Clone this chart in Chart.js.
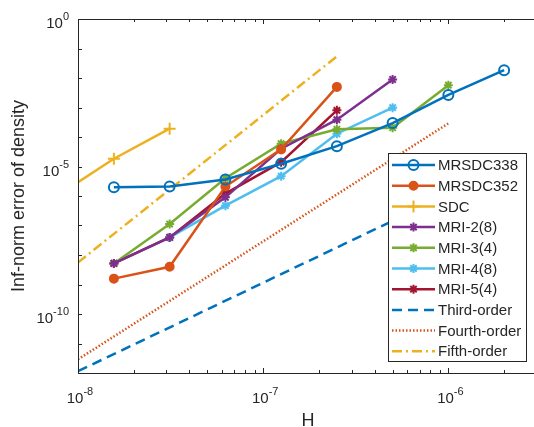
<!DOCTYPE html>
<html>
<head>
<meta charset="utf-8">
<script src="https://cdn.jsdelivr.net/npm/chart.js@4.4.1/dist/chart.umd.min.js"></script>
<style>
html,body{margin:0;padding:0;background:#fff;}
#wrap{width:534px;height:427px;position:relative;}
</style>
</head>
<body>
<div id="wrap"><canvas id="c" width="534" height="427"></canvas></div>
<script>
// ---- data ----
const H = [7.8125e-9, 1.5625e-8, 3.125e-8, 6.25e-8, 1.25e-7, 2.5e-7, 5e-7, 1e-6, 2e-6];
const MRSDC338 = [null, 1.98e-6, 2.09e-6, 3.61e-6, 1.24e-5, 4.9e-5, 2.97e-4, 2.66e-3, 1.84e-2];
const MRSDC352 = [null, 1.58e-9, 3.98e-9, 2.09e-6, 3.8e-5, 5.0e-3, null, null, null];
const SDC      = [1.07e-6, 1.83e-5, 1.91e-4, null, null, null, null, null, null];
const MRI2_8   = [null, 5.18e-9, 3.94e-8, 9.0e-7, 4.0e-5, 3.87e-4, 8.9e-3, null, null];
const MRI3_4   = [null, 5.18e-9, 1.12e-7, 4.0e-6, 5.9e-5, 1.82e-4, 2.07e-4, 5.69e-3, null];
const MRI4_8   = [null, null, 3.94e-8, 4.71e-7, 4.68e-6, 1.29e-4, 9.9e-4, null, null];
const MRI5_4   = [null, 5.18e-9, 3.94e-8, 1.21e-6, 1.40e-5, 8.0e-4, null, null, null];
const refH     = [1e-8, 1e-6];
const thirdOrder  = [1.15e-12, 1.15e-6];
const fourthOrder = [2.9e-12, 2.9e-4];
const fifthH      = [1e-8, 2.5e-7];
const fifthOrder  = [5.56e-9, 5.43e-2];
const xTickLabels = [-8, -7, -6];
const yTickLabels = [0, -5, -10];
const seriesNames = ['MRSDC338','MRSDC352','SDC','MRI-2(8)','MRI-3(4)','MRI-4(8)','MRI-5(4)','Third-order','Fourth-order','Fifth-order'];

function pts(xs, ys){ const out=[]; for(let i=0;i<xs.length;i++){ if(ys[i]!==null) out.push({x:xs[i], y:ys[i]}); } return out; }

const TXT = '#262626';
const FONT = '"Liberation Sans", Arial, Helvetica, sans-serif';

function ds(label, data, color, style, extra){
  return Object.assign({
    label, data, borderColor: color, backgroundColor: color,
    borderWidth: 2.5, pointStyle: style, pointRadius: 5, pointBorderWidth: 2,
    pointBackgroundColor: color, pointBorderColor: color, tension: 0, fill: false
  }, extra||{});
}

const datasets = [
  ds(seriesNames[0], pts(H, MRSDC338), '#0072BD', 'circle', {pointBackgroundColor:'rgba(0,0,0,0)', pointRadius:5}),
  ds(seriesNames[1], pts(H, MRSDC352), '#D95319', 'circle', {pointRadius:4}),
  ds(seriesNames[2], pts(H, SDC), '#EDB120', 'cross', {pointRadius:6}),
  ds(seriesNames[3], pts(H, MRI2_8), '#7E2F8E', 'star', {pointRadius:4.5}),
  ds(seriesNames[4], pts(H, MRI3_4), '#77AC30', 'star', {pointRadius:4.5}),
  ds(seriesNames[5], pts(H, MRI4_8), '#4DBEEE', 'star', {pointRadius:4.5}),
  ds(seriesNames[6], pts(H, MRI5_4), '#A2142F', 'star', {pointRadius:4.5}),
  ds(seriesNames[7], pts(refH, thirdOrder), '#0072BD', false, {pointRadius:0, borderDash:[10,6]}),
  ds(seriesNames[8], pts(refH, fourthOrder), '#D95319', false, {pointRadius:0, borderWidth:2.5, borderDash:[1.5,2]}),
  ds(seriesNames[9], pts(fifthH, fifthOrder), '#EDB120', false, {pointRadius:0, borderDash:[10,4,2,4]})
];

const matlabAxes = {
  id: 'matlabAxes',
  afterDraw(chart){
    const ctx = chart.ctx;
    const {left, right, top, bottom} = chart.chartArea;
    const xs = chart.scales.x, ys = chart.scales.y;
    ctx.save();
    ctx.strokeStyle = TXT; ctx.lineWidth = 1;
    // box
    ctx.beginPath();
    ctx.moveTo(left+0.5, top+0.5); ctx.lineTo(right, top+0.5);
    ctx.moveTo(left+0.5, top); ctx.lineTo(left+0.5, bottom+0.5);
    ctx.moveTo(left, bottom+0.5); ctx.lineTo(right, bottom+0.5);
    ctx.stroke();
    // x ticks
    ctx.beginPath();
    for(let d=-8; d<=-6; d++){
      for(let m=1; m<=9; m++){
        const v = m*Math.pow(10,d);
        if(v < xs.min*0.999 || v > xs.max) continue;
        const px = Math.round(xs.getPixelForValue(v))+0.5;
        const len = m===1 ? 5 : 3;
        ctx.moveTo(px, bottom); ctx.lineTo(px, bottom-len);
        ctx.moveTo(px, top); ctx.lineTo(px, top+len);
      }
    }
    // y ticks each decade
    for(let d=-12; d<=0; d++){
      const py = Math.round(ys.getPixelForValue(Math.pow(10,d)))+0.5;
      ctx.moveTo(left, py); ctx.lineTo(left+4, py);
    }
    ctx.stroke();
    // tick labels
    ctx.fillStyle = TXT;
    ctx.textBaseline = 'alphabetic';
    const baseF = '15px '+FONT, supF = '11px '+FONT;
    xTickLabels.forEach(e=>{
      const px = xs.getPixelForValue(Math.pow(10,e));
      ctx.font = baseF; const w1 = ctx.measureText('10').width;
      ctx.font = supF; const w2 = ctx.measureText(String(e)).width;
      const x0 = px - (w1+w2)/2 + 2;
      ctx.font = baseF; ctx.textAlign='left'; ctx.fillText('10', x0, 403);
      ctx.font = supF; ctx.fillText(String(e), x0+w1, 395);
    });
    yTickLabels.forEach(e=>{
      const py = ys.getPixelForValue(Math.pow(10,e));
      ctx.font = supF; const w2 = ctx.measureText(String(e)).width;
      ctx.font = baseF; const w1 = ctx.measureText('10').width;
      const xr = left - 9;
      ctx.textAlign='left';
      ctx.font = baseF; ctx.fillText('10', xr - w2 - w1, py + 9);
      ctx.font = supF; ctx.fillText(String(e), xr - w2, py + 1);
    });
    // axis titles
    ctx.font = '18px '+FONT; ctx.textAlign='center';
    ctx.fillText('H', 308, 426);
    ctx.save();
    ctx.translate(24, (top+bottom)/2);
    ctx.rotate(-Math.PI/2);
    ctx.fillText('Inf-norm error of density', 0, 0);
    ctx.restore();
    // legend
    const lx = 388, ly = 153, lw = 138, lh = 208;
    ctx.fillStyle = '#fff';
    ctx.fillRect(lx, ly, lw, lh);
    ctx.strokeStyle = TXT; ctx.lineWidth = 1;
    ctx.strokeRect(lx+0.5, ly+0.5, lw, lh);
    chart.data.datasets.forEach((d,i)=>{
      const yy = 165 + i*20.7;
      ctx.save();
      ctx.strokeStyle = d.borderColor; ctx.lineWidth = d.borderWidth;
      ctx.setLineDash(d.borderDash || []);
      ctx.beginPath(); ctx.moveTo(392, yy); ctx.lineTo(435, yy); ctx.stroke();
      ctx.setLineDash([]);
      if(d.pointStyle){
        ctx.fillStyle = d.pointBackgroundColor; ctx.strokeStyle = d.pointBorderColor; ctx.lineWidth = d.pointBorderWidth;
        Chart.helpers.drawPoint(ctx, {pointStyle: d.pointStyle, radius: d.pointRadius, borderWidth: d.pointBorderWidth, rotation:0}, 413.5, yy);
      }
      ctx.restore();
      ctx.fillStyle = TXT; ctx.font = '15px '+FONT; ctx.textAlign='left'; ctx.textBaseline='middle';
      ctx.fillText(d.label, 438, yy+1);
      ctx.textBaseline='alphabetic';
    });
    ctx.restore();
  }
};

new Chart(document.getElementById('c'), {
  type: 'line',
  data: { datasets },
  options: {
    responsive: false, animation: false, devicePixelRatio: 1,
    layout: { autoPadding: false, padding: { left: 0, right: 0, top: 19, bottom: 0 } },
    plugins: { legend: { display: false }, tooltip: { enabled: false } },
    scales: {
      x: { type: 'logarithmic', min: 1e-8, max: 2.9e-6, position: 'bottom',
           grid: { display: false }, border: { display: false },
           ticks: { display: false },
           afterFit(s){ s.height = 54; } },
      y: { type: 'logarithmic', min: 1e-12, max: 1, position: 'left',
           grid: { display: false }, border: { display: false },
           ticks: { display: false },
           afterFit(s){ s.width = 78; } }
    }
  },
  plugins: [matlabAxes]
});
</script>
</body>
</html>
